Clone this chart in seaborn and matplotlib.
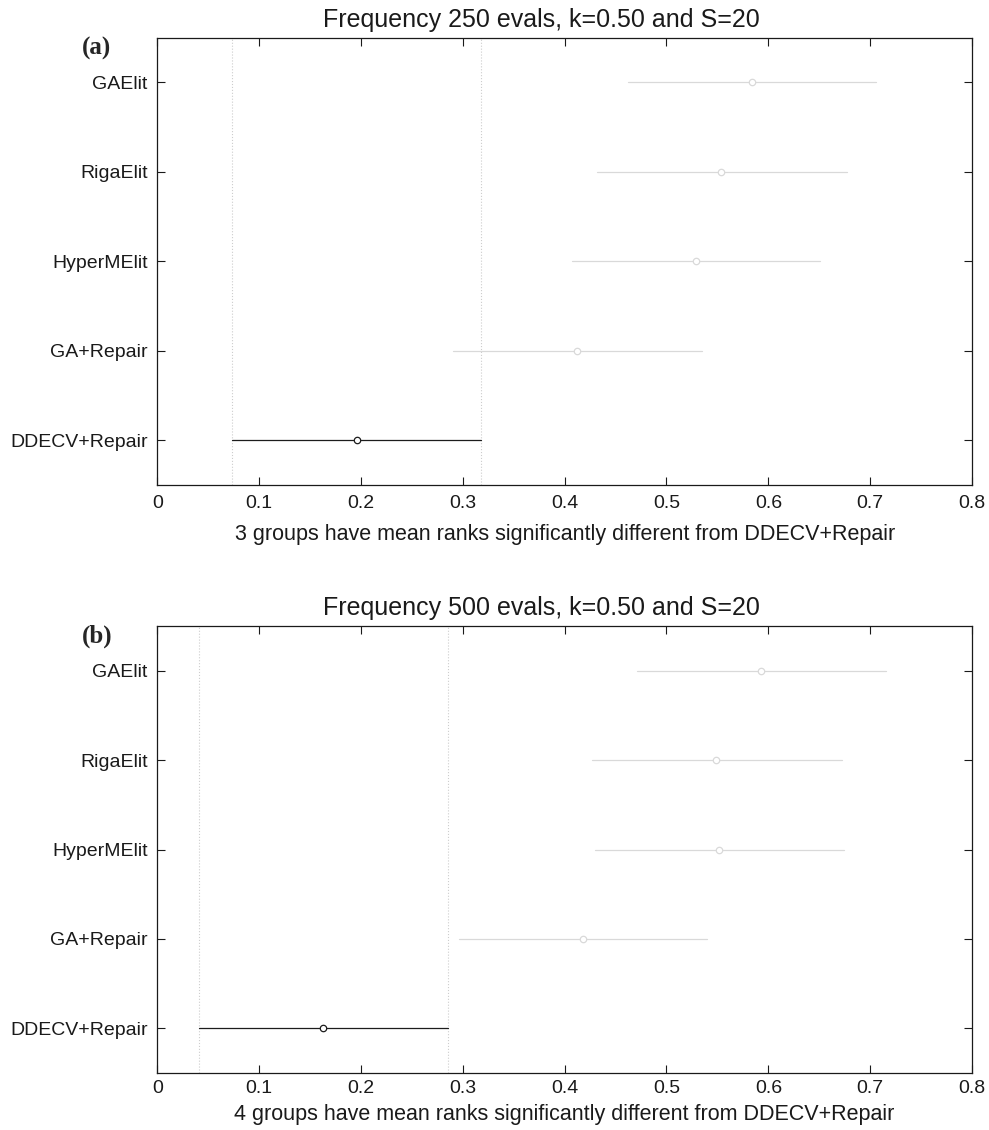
import matplotlib
matplotlib.use("Agg")
import matplotlib.pyplot as plt
import seaborn as sns
import pandas as pd

# groups, top to bottom
groups = ["GAElit", "RigaElit", "HyperMElit", "GA+Repair", "DDECV+Repair"]
ref_group = "DDECV+Repair"

# panel (a): 250 evals -- mean rank and comparison interval
mid_250 = [0.584, 0.554, 0.529, 0.412, 0.196]
lo_250 = [0.462, 0.432, 0.407, 0.290, 0.073]
hi_250 = [0.706, 0.677, 0.651, 0.535, 0.318]

# panel (b): 500 evals
mid_500 = [0.593, 0.549, 0.552, 0.418, 0.163]
lo_500 = [0.471, 0.427, 0.430, 0.296, 0.041]
hi_500 = [0.716, 0.672, 0.674, 0.540, 0.285]

x_ticks = [0, 0.1, 0.2, 0.3, 0.4, 0.5, 0.6, 0.7, 0.8]
x_ticklabels = ["0", "0.1", "0.2", "0.3", "0.4", "0.5", "0.6", "0.7", "0.8"]

titles = ["Frequency 250 evals, k=0.50 and S=20", "Frequency 500 evals, k=0.50 and S=20"]
xlabels = ["3 groups have mean ranks significantly different from DDECV+Repair",
           "4 groups have mean ranks significantly different from DDECV+Repair"]
panel_tags = ["(a)", "(b)"]

sns.set_style("ticks")
plt.rcParams["font.family"] = ["Liberation Sans", "DejaVu Sans"]

pal = {g: ("#1c1c1c" if g == ref_group else "#d9d9d9") for g in groups}


def long_table(lo, mid, hi):
    rows = []
    for g, a, m, b in zip(groups, lo, mid, hi):
        for v in (a, m, b):
            rows.append({"group": g, "value": v})
    return pd.DataFrame(rows)


fig = plt.figure(figsize=(9.89, 11.3), dpi=100)
ax_top = fig.add_axes([0.1591, 0.5708, 0.8237, 0.3958])
ax_bot = fig.add_axes([0.1591, 0.0507, 0.8237, 0.3950])

panels = [
    (ax_top, lo_250, mid_250, hi_250),
    (ax_bot, lo_500, mid_500, hi_500),
]

for i, (ax, lo, mid, hi) in enumerate(panels):
    df = long_table(lo, mid, hi)
    # median of (lo, mid, hi) is the mean rank, full range is the interval
    sns.pointplot(data=df, x="value", y="group", hue="group", order=groups,
                  hue_order=groups, palette=pal, estimator="median",
                  errorbar=("pi", 100), markers="o", linestyles="none",
                  markersize=4.6, markeredgewidth=0.9, markerfacecolor="white",
                  zorder=3, err_kws={"linewidth": 0.9, "zorder": 2},
                  legend=False, ax=ax)

    # dotted guides at the reference group's interval
    r = groups.index(ref_group)
    for v in (lo[r], hi[r]):
        ax.axvline(v, color="#cdcdcd", linestyle=":", linewidth=0.8, zorder=0)

    ax.set_xlim(0, 0.8)
    ax.set_ylim(len(groups) - 0.5, -0.5)
    ax.set_xticks(x_ticks)
    ax.set_xticklabels(x_ticklabels)
    ax.tick_params(axis="both", direction="in", top=True, right=True,
                   length=5.8, width=0.8, labelsize=14, colors="#1a1a1a")
    ax.tick_params(axis="y", pad=7)
    ax.tick_params(axis="x", pad=7 if i == 0 else 5)
    for s in ax.spines.values():
        s.set_visible(True)
        s.set_linewidth(0.9)
        s.set_color("#1a1a1a")
    ax.grid(False)

    ax.set_ylabel("")
    ax.set_xlabel(xlabels[i], fontsize=15.5, color="#1a1a1a", labelpad=9 if i == 0 else 5)
    ax.set_title(titles[i], fontsize=18, x=0.471, pad=8, color="#1a1a1a")

fig.text(82 / 989, 1 - 48.5 / 1130, panel_tags[0], family=["Liberation Serif", "DejaVu Serif"],
         fontsize=18, fontweight="bold", va="center", ha="left")
fig.text(82 / 989, 1 - 636.5 / 1130, panel_tags[1], family=["Liberation Serif", "DejaVu Serif"],
         fontsize=18, fontweight="bold", va="center", ha="left")

fig.savefig("out.png", dpi=100)
